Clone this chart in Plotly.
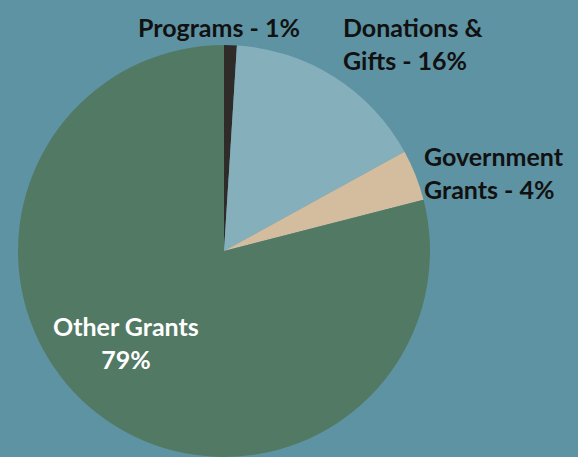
import plotly.graph_objects as go

categories = ["Programs", "Donations & Gifts", "Government Grants", "Other Grants"]
values = [1, 16, 4, 79]
colors = ["#2e2b28", "#86afbc", "#d3bd9e", "#527963"]

W, H = 578, 457
cx, cy, r = 224, 253, 206

fig = go.Figure(go.Pie(
    labels=categories, values=values, sort=False, direction="clockwise",
    rotation=0, marker=dict(colors=colors, line=dict(width=0)),
    textinfo="none", hoverinfo="label+percent", showlegend=False,
    domain=dict(x=[(cx - r) / W, (cx + r) / W], y=[0, 2 * r / H]),
))

font_dark = dict(family="Lato, 'Open Sans', sans-serif", size=25, color="#111111")
font_light = dict(family="Lato, 'Open Sans', sans-serif", size=25, color="#ffffff")

annots = [
    dict(text="<b>Programs - 1%</b>", x=219 / W, y=1 - 27 / H, xanchor="center", yanchor="middle", font=font_dark, align="center"),
    dict(text="<b>Donations &amp;<br>Gifts - 16%</b>", x=341 / W, y=1 - 44 / H, xanchor="left", yanchor="middle", font=font_dark, align="left"),
    dict(text="<b>Government<br>Grants - 4%</b>", x=422 / W, y=1 - 172 / H, xanchor="left", yanchor="middle", font=font_dark, align="left"),
    dict(text="<b>Other Grants<br>79%</b>", x=126 / W, y=1 - 342 / H, xanchor="center", yanchor="middle", font=font_light, align="center"),
]
for a in annots:
    a.update(xref="paper", yref="paper", showarrow=False)

fig.update_layout(
    width=W, height=H, margin=dict(l=0, r=0, t=0, b=0),
    paper_bgcolor="#5e93a3", plot_bgcolor="#5e93a3",
    annotations=annots,
)
fig.write_html("out.html")
